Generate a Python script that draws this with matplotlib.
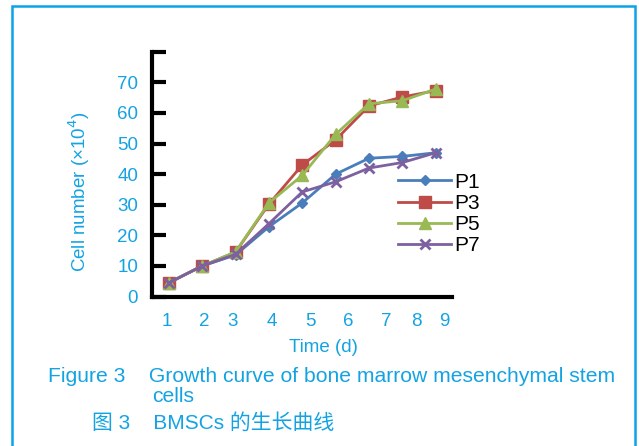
import matplotlib
matplotlib.use("Agg")
import matplotlib.pyplot as plt
from matplotlib.patches import Rectangle

plt.rcParams['font.family'] = ['Liberation Sans', 'Noto Sans CJK SC', 'DejaVu Sans']

# growth data (x10^4 cells), days 1..9
days = [1, 2, 3, 4, 5, 6, 7, 8, 9]
p1 = [4.5, 10, 13.6, 22.8, 30.6, 40.0, 45.2, 45.8, 47.0]
p3 = [4.5, 10, 14.5, 30.2, 43.0, 51.2, 62.3, 65.2, 67.3]
p5 = [4.5, 10, 14.6, 30.6, 39.6, 53.0, 63.0, 64.0, 67.8]
p7 = [4.5, 10, 13.8, 23.8, 34.2, 37.5, 42.0, 43.8, 47.0]

# tick labels sit slightly off the data points in the original
tick_labels = ['1', '2', '3', '4', '5', '6', '7', '8', '9']
tick_pos = [0.95, 2.05, 2.92, 4.08, 5.24, 6.38, 7.53, 8.41, 9.27]

cyan = '#13a3e3'

fig = plt.figure(figsize=(6.39, 4.46), dpi=100)
ax = fig.add_axes([0.238, 0.335, 0.47, 0.549])

ax.plot(days, p1, color='#4a7ebb', marker='D', markersize=5, lw=2, label='P1')
ax.plot(days, p3, color='#be4b48', marker='s', markersize=9, lw=2, label='P3')
ax.plot(days, p5, color='#98b954', marker='^', markersize=8, lw=2, label='P5')
ax.plot(days, p7, color='#7d60a0', marker='x', markersize=7, mew=2, lw=2, label='P7')

ax.set_xlim(0.5, 9.5)
ax.set_ylim(0, 80)
ax.set_yticks(range(0, 81, 10))
ax.set_yticklabels([str(v) for v in range(0, 71, 10)] + [''])
ax.set_xticks(tick_pos)
ax.set_xticklabels(tick_labels)

for s in ['top', 'right']:
    ax.spines[s].set_visible(False)
for s in ['left', 'bottom']:
    ax.spines[s].set_linewidth(3)
ax.tick_params(axis='y', direction='in', length=10, width=3, pad=10,
               labelsize=13.5, labelcolor=cyan)
ax.tick_params(axis='x', length=0, pad=12, labelsize=13.5, labelcolor=cyan)

ax.set_xlabel('Time (d)', fontsize=13.5, color=cyan)
ax.xaxis.set_label_coords(0.57, -0.172)
ax.set_ylabel('Cell number (×10$^4$)', fontsize=13.5, color=cyan)
ax.yaxis.set_label_coords(-0.2, 0.43)

ax.legend(loc='upper left', bbox_to_anchor=(0.607, 0.636), bbox_transform=fig.transFigure,
          frameon=False, fontsize=15, handlelength=2.55, handletextpad=0.15,
          labelspacing=0.1, borderpad=0)

fig.text(0.075, 0.155, 'Figure 3    Growth curve of bone marrow mesenchymal stem',
         fontsize=15.2, color=cyan, va='center')
fig.text(0.238, 0.11, 'cells', fontsize=15.2, color=cyan, va='center')
fig.text(0.144, 0.052, '图 3    BMSCs 的生长曲线', fontsize=15, color=cyan, va='center')

fig.patches.append(Rectangle((12 / 639, -0.05), 623 / 639, 1 - 6 / 446 + 0.05,
                             transform=fig.transFigure, fill=False,
                             edgecolor='#0aa3e6', lw=1.8))

fig.savefig('out.png', dpi=100)
